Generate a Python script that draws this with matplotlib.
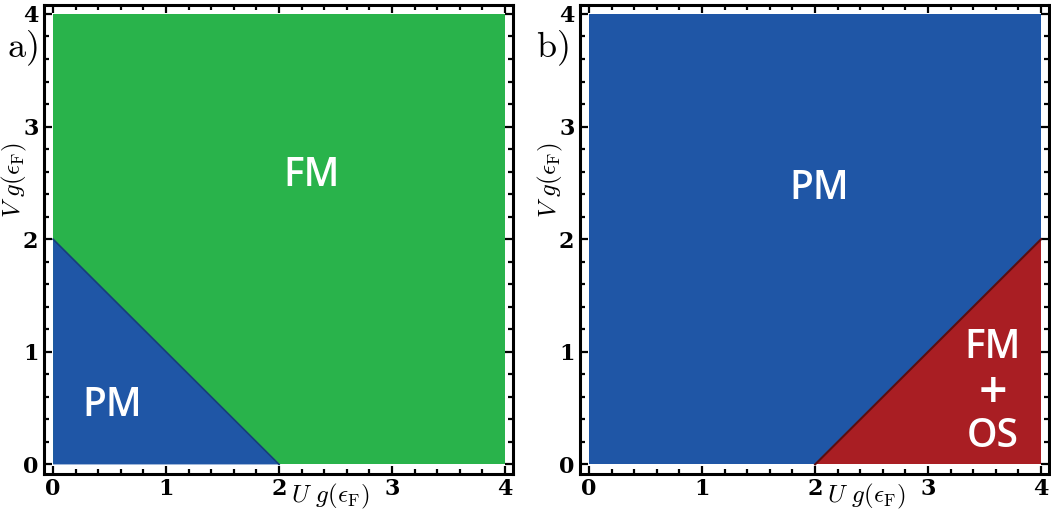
import numpy as np
import matplotlib.pyplot as plt
from matplotlib.ticker import MultipleLocator, FixedLocator

plt.rcParams['mathtext.fontset'] = 'cm'

# region boundaries (U g, V g)
square_x = [0, 4, 4, 0]
square_y = [0, 0, 4, 4]

pm_a_x = [0, 2, 0]
pm_a_y = [0, 0, 2]

fmos_b_x = [2, 4, 4]
fmos_b_y = [0, 0, 2]

ticks = [0, 1, 2, 3, 4]
tick_labels = ['0', '1', '2', '3', '4']

green = '#29b34b'
blue = '#1f56a6'
red = '#a91e23'

fig = plt.figure(figsize=(10.51, 5.16), dpi=100)
ax_a = fig.add_axes([0.0419, 0.0814, 0.4462, 0.909])
ax_b = fig.add_axes([0.5519, 0.0814, 0.4462, 0.909])

def style(ax):
    ax.set_xlim(-0.08, 4.07)
    ax.set_ylim(-0.085, 4.08)
    ax.xaxis.set_major_locator(FixedLocator(ticks))
    ax.yaxis.set_major_locator(FixedLocator(ticks))
    ax.xaxis.set_minor_locator(MultipleLocator(0.2))
    ax.yaxis.set_minor_locator(MultipleLocator(0.2))
    ax.set_xticklabels(tick_labels, family='DejaVu Serif', fontweight='bold', fontsize=16)
    ax.set_yticklabels(tick_labels, family='DejaVu Serif', fontweight='bold', fontsize=16)
    ax.tick_params(which='both', direction='in', top=True, right=True, width=1.6)
    ax.tick_params(which='major', length=6, pad=4)
    ax.tick_params(which='minor', length=3.5)
    ax.tick_params(axis='x', which='major', pad=3)
    for s in ax.spines.values():
        s.set_linewidth(2.2)
    ax.text(0.61, -0.047, r'$U\ g(\epsilon_{\rm F})$', transform=ax.transAxes,
            fontsize=18, ha='center', va='center')
    ax.text(-0.064, 0.627, r'$V\ g(\epsilon_{\rm F})$', transform=ax.transAxes,
            fontsize=18, ha='center', va='center', rotation=90)

label_kw = dict(color='white', fontsize=28, fontweight='semibold', family='Open Sans',
                ha='center', va='center')

# panel a
ax_a.fill(square_x, square_y, color=green, lw=0)
ax_a.fill(pm_a_x, pm_a_y, color=blue, lw=0)
ax_a.plot([pm_a_x[1], pm_a_x[2]], [pm_a_y[1], pm_a_y[2]], color='#173f7a', lw=1.2)
ax_a.text(2.29, 2.56, 'FM', **label_kw)
ax_a.text(0.52, 0.52, 'PM', **label_kw)
style(ax_a)

# panel b
ax_b.fill(square_x, square_y, color=blue, lw=0)
ax_b.fill(fmos_b_x, fmos_b_y, color=red, lw=0)
ax_b.plot([fmos_b_x[0], fmos_b_x[2]], [fmos_b_y[0], fmos_b_y[2]], color='#5a0e10', lw=1.5)
ax_b.text(2.04, 2.45, 'PM', **label_kw)
ax_b.text(3.57, 1.03, 'FM', **label_kw)
ax_b.text(3.57, 0.62, '+', **dict(label_kw, fontsize=36))
ax_b.text(3.57, 0.24, 'OS', **label_kw)
style(ax_b)

fig.text(22 / 1051, 1 - 48 / 516, r'$\mathrm{a)}$', fontsize=26, ha='center', va='center')
fig.text(552 / 1051, 1 - 48 / 516, r'$\mathrm{b)}$', fontsize=26, ha='center', va='center')

fig.savefig('out.png', dpi=100)
